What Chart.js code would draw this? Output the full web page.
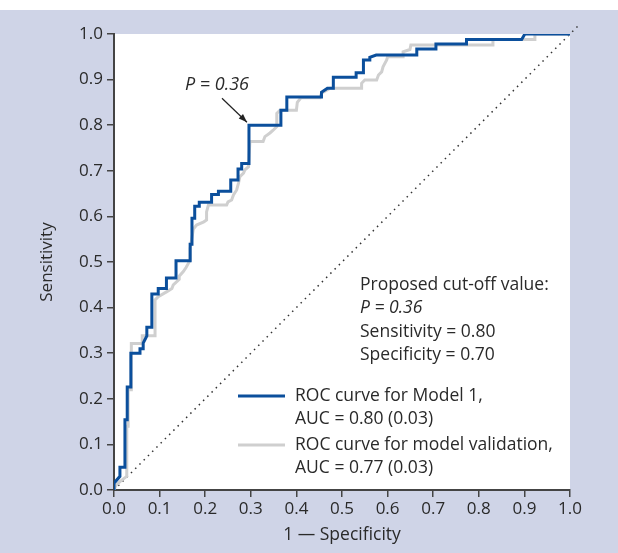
<!DOCTYPE html>
<html>
<head>
<meta charset="utf-8">
<script src="https://cdn.jsdelivr.net/npm/chart.js@4.4.1/dist/chart.umd.min.js"></script>
<style>
  html, body { margin: 0; padding: 0; background: #ffffff; }
  #wrap { width: 618px; height: 553px; position: relative; }
</style>
</head>
<body>
<div id="wrap"><canvas id="roc" width="618" height="553"></canvas></div>
<script>
// ROC vertices: [1 - specificity, sensitivity]
const modelRoc = [
  [0, 0], [0, 0.015], [0.013, 0.03], [0.013, 0.05], [0.024, 0.05], [0.024, 0.154],
  [0.029, 0.154], [0.029, 0.226], [0.037, 0.226], [0.037, 0.30], [0.057, 0.30],
  [0.057, 0.31], [0.064, 0.31], [0.064, 0.322], [0.068, 0.33], [0.072, 0.338],
  [0.072, 0.357], [0.083, 0.357], [0.083, 0.43], [0.097, 0.43], [0.097, 0.442],
  [0.115, 0.442], [0.115, 0.465], [0.136, 0.465], [0.136, 0.503], [0.167, 0.503],
  [0.167, 0.539], [0.171, 0.539], [0.171, 0.596], [0.177, 0.596], [0.177, 0.622],
  [0.187, 0.622], [0.187, 0.631], [0.214, 0.631], [0.214, 0.648], [0.229, 0.648],
  [0.229, 0.655], [0.256, 0.655], [0.256, 0.68], [0.272, 0.68], [0.272, 0.704],
  [0.28, 0.704], [0.28, 0.716], [0.296, 0.716], [0.296, 0.80], [0.366, 0.80],
  [0.366, 0.833], [0.379, 0.833], [0.379, 0.862], [0.455, 0.862], [0.455, 0.872],
  [0.468, 0.881], [0.481, 0.881], [0.481, 0.905], [0.531, 0.905], [0.531, 0.915],
  [0.547, 0.915], [0.547, 0.943], [0.561, 0.943], [0.561, 0.949], [0.575, 0.954],
  [0.664, 0.954], [0.664, 0.967], [0.706, 0.967], [0.706, 0.978], [0.773, 0.978],
  [0.773, 0.988], [0.894, 0.988], [0.901, 1.0], [1.0, 1.0]
];

const validationRoc = [
  [0, 0], [0.004, 0.01], [0.015, 0.02], [0.028, 0.03], [0.028, 0.14], [0.031, 0.14],
  [0.031, 0.22], [0.038, 0.22], [0.038, 0.321], [0.062, 0.321], [0.062, 0.338],
  [0.09, 0.338], [0.09, 0.417], [0.097, 0.424], [0.116, 0.435], [0.127, 0.442],
  [0.13, 0.45], [0.143, 0.462], [0.143, 0.469], [0.152, 0.479], [0.158, 0.488],
  [0.167, 0.504], [0.167, 0.53], [0.174, 0.572], [0.181, 0.581], [0.197, 0.588],
  [0.203, 0.592], [0.203, 0.61], [0.207, 0.625], [0.247, 0.625], [0.25, 0.632],
  [0.258, 0.636], [0.262, 0.647], [0.269, 0.658], [0.273, 0.673], [0.276, 0.687],
  [0.284, 0.695], [0.287, 0.702], [0.295, 0.709], [0.298, 0.764], [0.327, 0.764],
  [0.331, 0.775], [0.342, 0.783], [0.349, 0.789], [0.357, 0.797], [0.357, 0.826],
  [0.364, 0.833], [0.4, 0.833], [0.402, 0.85], [0.41, 0.86], [0.452, 0.86],
  [0.455, 0.87], [0.474, 0.881], [0.543, 0.881], [0.543, 0.892], [0.55, 0.899],
  [0.576, 0.899], [0.58, 0.91], [0.587, 0.917], [0.59, 0.928], [0.598, 0.943],
  [0.60, 0.95], [0.634, 0.95], [0.634, 0.961], [0.649, 0.966], [0.651, 0.976],
  [0.831, 0.976], [0.831, 0.988], [0.923, 0.988], [0.923, 1.0], [1.0, 1.0]
];

const chanceLine = [[0, 0], [1.02, 1.02]];

const axisTicks = [0, 0.1, 0.2, 0.3, 0.4, 0.5, 0.6, 0.7, 0.8, 0.9, 1.0];

const legendLabels = [
  ['ROC curve for Model 1,', 'AUC = 0.80 (0.03)'],
  ['ROC curve for model validation,', 'AUC = 0.77 (0.03)']
];
const cutoffNote = ['Proposed cut-off value:', 'P = 0.36', 'Sensitivity = 0.80', 'Specificity = 0.70'];
const cutoffPoint = [0.296, 0.80];

const BLUE = '#0b4f9c';
const GREY = '#cfcfcf';
const BACK = '#cfd4e7';
const INK = '#2a2a2a';
const FONT = '"Open Sans", "DejaVu Sans", sans-serif';

const toXY = pts => pts.map(p => ({ x: p[0], y: p[1] }));

// paper colours: white strip on top, lavender panel, white plot area
const backdrop = {
  id: 'backdrop',
  beforeDraw(chart) {
    const { ctx, width, height, chartArea: a } = chart;
    ctx.save();
    ctx.fillStyle = '#ffffff';
    ctx.fillRect(0, 0, width, height);
    ctx.fillStyle = BACK;
    ctx.fillRect(0, 10, width, height - 10);
    ctx.fillStyle = '#ffffff';
    ctx.fillRect(a.left, a.top, a.right - a.left, a.bottom - a.top);
    ctx.restore();
  }
};

// cut-off label with arrow, note text and the legend
const notes = {
  id: 'notes',
  afterDraw(chart) {
    const { ctx, scales: { x, y } } = chart;
    ctx.save();
    ctx.fillStyle = INK;
    ctx.textBaseline = 'middle';

    // "P = 0.36" with arrow
    const tipX = x.getPixelForValue(cutoffPoint[0]) - 2;
    const tipY = y.getPixelForValue(cutoffPoint[1]) - 3;
    ctx.font = 'italic 18px ' + FONT;
    ctx.textAlign = 'center';
    ctx.fillText('P = 0.36', tipX - 30, tipY - 37);
    const sx = tipX - 25, sy = tipY - 24;
    ctx.strokeStyle = '#222';
    ctx.lineWidth = 1.2;
    ctx.beginPath();
    ctx.moveTo(sx, sy);
    ctx.lineTo(tipX, tipY);
    ctx.stroke();
    const ang = Math.atan2(tipY - sy, tipX - sx);
    ctx.fillStyle = '#222';
    ctx.beginPath();
    ctx.moveTo(tipX, tipY);
    ctx.lineTo(tipX - 9 * Math.cos(ang - 0.35), tipY - 9 * Math.sin(ang - 0.35));
    ctx.lineTo(tipX - 9 * Math.cos(ang + 0.35), tipY - 9 * Math.sin(ang + 0.35));
    ctx.closePath();
    ctx.fill();

    // cut-off note
    ctx.fillStyle = INK;
    ctx.textAlign = 'left';
    cutoffNote.forEach((line, i) => {
      ctx.font = (i === 1 ? 'italic ' : '') + '17.5px ' + FONT;
      ctx.fillText(line, 360, 285 + i * 23.3);
    });

    // legend
    const colours = [BLUE, GREY];
    legendLabels.forEach((lines, i) => {
      const top = 396 + i * 49;
      ctx.strokeStyle = colours[i];
      ctx.lineWidth = 3;
      ctx.beginPath();
      ctx.moveTo(238, top);
      ctx.lineTo(285, top);
      ctx.stroke();
      ctx.font = '17.5px ' + FONT;
      lines.forEach((t, j) => ctx.fillText(t, 295, top + j * 23.5));
    });
    ctx.restore();
  }
};

const ctx = document.getElementById('roc').getContext('2d');
new Chart(ctx, {
  type: 'scatter',
  data: {
    datasets: [
      {
        label: 'ROC curve for Model 1',
        data: toXY(modelRoc),
        showLine: true,
        borderColor: BLUE,
        borderWidth: 3,
        pointRadius: 0,
        order: 0
      },
      {
        label: 'ROC curve for model validation',
        data: toXY(validationRoc),
        showLine: true,
        borderColor: GREY,
        borderWidth: 3,
        pointRadius: 0,
        order: 1
      },
      {
        label: 'Chance',
        data: toXY(chanceLine),
        showLine: true,
        borderColor: '#333',
        borderWidth: 1.5,
        borderDash: [1.5, 4.5],
        pointRadius: 0,
        clip: false,
        order: 2
      }
    ]
  },
  options: {
    responsive: false,
    animation: false,
    devicePixelRatio: 1,
    layout: { padding: { left: 0, right: 48, top: 34, bottom: 0 } },
    plugins: {
      legend: { display: false },
      tooltip: { enabled: false }
    },
    scales: {
      x: {
        type: 'linear',
        min: 0,
        max: 1,
        afterBuildTicks: s => { s.ticks = axisTicks.map(v => ({ value: v })); },
        afterFit: s => { s.height = 63; },
        grid: { drawOnChartArea: false, drawTicks: true, tickLength: 7, color: '#444', lineWidth: 1.5 },
        border: { display: true, color: '#444', width: 2 },
        ticks: {
          autoSkip: false,
          maxRotation: 0,
          padding: 2,
          color: INK,
          font: { family: FONT, size: 17 },
          callback: v => v.toFixed(1)
        },
        title: {
          display: true,
          text: '1 — Specificity',
          color: INK,
          font: { family: FONT, size: 17.5 },
          padding: { top: 0, bottom: 7 }
        }
      },
      y: {
        type: 'linear',
        min: 0,
        max: 1,
        afterBuildTicks: s => { s.ticks = axisTicks.map(v => ({ value: v })); },
        afterFit: s => { s.width = 114; },
        grid: { drawOnChartArea: false, drawTicks: true, tickLength: 7, color: '#444', lineWidth: 1.5 },
        border: { display: true, color: '#444', width: 2 },
        ticks: {
          autoSkip: false,
          padding: 4,
          color: INK,
          font: { family: FONT, size: 17 },
          callback: v => v.toFixed(1)
        },
        title: {
          display: true,
          text: 'Sensitivity',
          color: INK,
          font: { family: FONT, size: 17 },
          padding: { top: 37, bottom: 0 }
        }
      }
    }
  },
  plugins: [backdrop, notes]
});
</script>
</body>
</html>
